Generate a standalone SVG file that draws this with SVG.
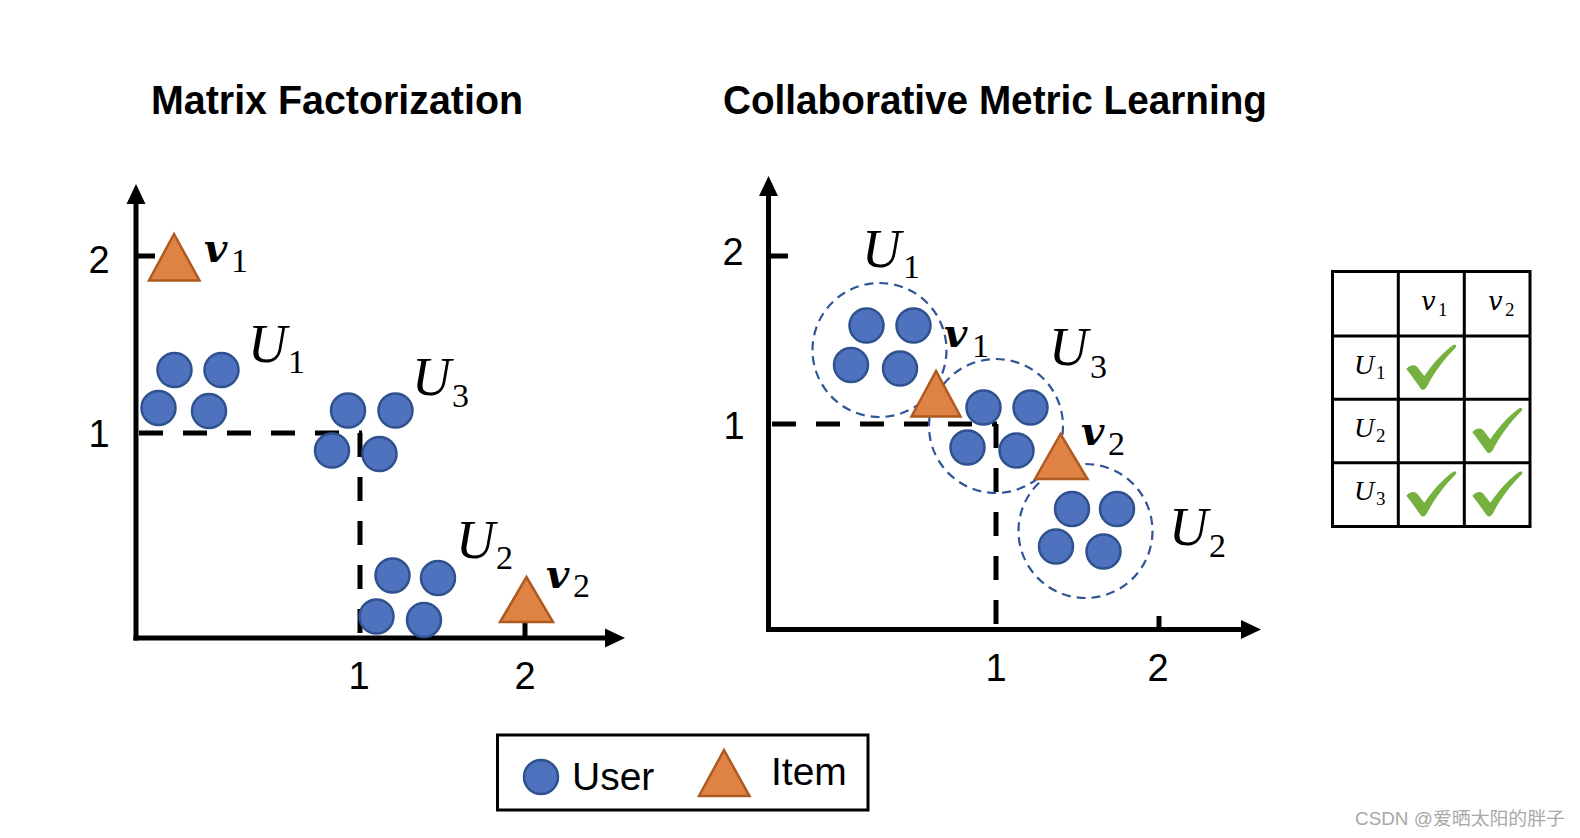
<svg xmlns="http://www.w3.org/2000/svg" width="1580" height="838" viewBox="0 0 1580 838">
<style>
.title{font-family:"Liberation Sans",Arial,sans-serif;font-weight:bold;font-size:41px;fill:#000}
.num{font-family:"Liberation Sans",Arial,sans-serif;font-size:38px;fill:#000;text-anchor:middle}
.U{font-family:"Liberation Serif","Times New Roman",serif;font-style:italic;font-size:54px;fill:#000}
.vb{font-family:"DejaVu Serif",serif;font-style:italic;font-weight:bold;font-size:40px;fill:#000}
.sub{font-family:"Liberation Serif","Times New Roman",serif;font-size:34px;fill:#000}
.tU{font-family:"Liberation Serif","Times New Roman",serif;font-style:italic;font-size:28px;fill:#000}
.tv{font-family:"DejaVu Serif",serif;font-style:italic;font-size:26px;fill:#000}
.tsub{font-family:"Liberation Serif","Times New Roman",serif;font-size:19px;fill:#000}
.leg{font-family:"Liberation Sans",Arial,sans-serif;font-size:39px;fill:#000}
.axis{stroke:#000;stroke-width:5;fill:none}
.dash{stroke:#000;stroke-width:5;fill:none;stroke-dasharray:24 20}
.user{fill:#4F72BE;stroke:#2F528F;stroke-width:2.5}
.item{fill:#DF8344;stroke:#AE5A21;stroke-width:2.5;stroke-linejoin:miter}
.ring{fill:none;stroke:#2F5597;stroke-width:2.2;stroke-dasharray:9 6}
.chk{fill:#74B13E}
.grid{fill:none;stroke:#000;stroke-width:3}
</style>
<defs>
<marker id="arr" viewBox="0 -10 22 20" markerWidth="22" markerHeight="20" refX="1" refY="0" markerUnits="userSpaceOnUse" orient="auto">
<path d="M0,-9.5 L20,0 L0,9.5 Z" fill="#000"/>
</marker>
<path id="check" d="M8,33 C11,29 16,28 19,31 L26,40 C35,27 45,16 55,9 C58,8 59,10 57,12 C46,23 36,36 29,50 C27,54 24,55 22,52 C17,45 12,38 8,33 Z"/>
</defs>
<rect width="1580" height="838" fill="#fff"/>

<text class="title" x="151" y="114" textLength="372" lengthAdjust="spacingAndGlyphs">Matrix Factorization</text>
<text class="title" x="723" y="114" textLength="544" lengthAdjust="spacingAndGlyphs">Collaborative Metric Learning</text>

<!-- Left chart -->
<g id="mf-axes">
<line class="axis" x1="136" y1="640.5" x2="136" y2="203" marker-end="url(#arr)"/>
<line class="axis" x1="133.5" y1="638" x2="606" y2="638" marker-end="url(#arr)"/>
<line class="axis" x1="136" y1="256" x2="155" y2="256"/>
<line class="axis" x1="525" y1="638" x2="525" y2="620"/>
<line class="dash" x1="139" y1="433" x2="362" y2="433"/>
<line class="dash" x1="360" y1="433" x2="360" y2="638"/>
<text class="num" x="99" y="273">2</text>
<text class="num" x="99" y="447">1</text>
<text class="num" x="359" y="689">1</text>
<text class="num" x="525" y="689">2</text>
</g>
<g id="mf-U1">
<circle class="user" cx="174.5" cy="370" r="17"/>
<circle class="user" cx="221.5" cy="370" r="17"/>
<circle class="user" cx="158.5" cy="408" r="17"/>
<circle class="user" cx="209" cy="411" r="17"/>
<text class="U" x="248" y="362">U</text><text class="sub" x="288" y="373">1</text>
</g>
<g id="mf-U3">
<circle class="user" cx="348" cy="410.5" r="17"/>
<circle class="user" cx="395.5" cy="410.5" r="17"/>
<circle class="user" cx="332" cy="450.5" r="17"/>
<circle class="user" cx="379.5" cy="454" r="17"/>
<text class="U" x="412" y="395">U</text><text class="sub" x="452" y="407">3</text>
</g>
<g id="mf-U2">
<circle class="user" cx="392.5" cy="575.5" r="17"/>
<circle class="user" cx="438" cy="578" r="17"/>
<circle class="user" cx="376.5" cy="616.5" r="17"/>
<circle class="user" cx="424" cy="620" r="17"/>
<text class="U" x="456" y="558">U</text><text class="sub" x="496" y="569">2</text>
</g>
<g id="mf-v1">
<polygon class="item" points="174,234 149,280.5 199.5,280.5"/>
<text class="vb" x="204" y="262">v</text><text class="sub" x="231" y="272">1</text>
</g>
<g id="mf-v2">
<polygon class="item" points="526.5,577 500,622 553,622"/>
<text class="vb" x="546" y="588">v</text><text class="sub" x="573" y="597">2</text>
</g>

<!-- Right chart -->
<g id="cml-axes">
<line class="axis" x1="768.5" y1="632" x2="768.5" y2="195" marker-end="url(#arr)"/>
<line class="axis" x1="766" y1="629.5" x2="1242" y2="629.5" marker-end="url(#arr)"/>
<line class="axis" x1="768.5" y1="256" x2="788" y2="256"/>
<line class="axis" x1="1159" y1="629.5" x2="1159" y2="616"/>
<line class="dash" x1="772" y1="424" x2="997" y2="424"/>
<line class="dash" x1="996" y1="424" x2="996" y2="629.5"/>
<text class="num" x="733" y="265">2</text>
<text class="num" x="734" y="439">1</text>
<text class="num" x="996" y="681">1</text>
<text class="num" x="1158" y="681">2</text>
</g>
<g id="cml-U1">
<circle class="ring" cx="879.5" cy="350" r="67"/>
<circle class="user" cx="866.5" cy="325.5" r="17"/>
<circle class="user" cx="913.5" cy="325.5" r="17"/>
<circle class="user" cx="851" cy="365" r="17"/>
<circle class="user" cx="900" cy="368.5" r="17"/>
<text class="U" x="862" y="267">U</text><text class="sub" x="903" y="278">1</text>
</g>
<g id="cml-U3">
<circle class="ring" cx="996" cy="426" r="67"/>
<circle class="user" cx="983.5" cy="407.5" r="17"/>
<circle class="user" cx="1030.5" cy="407.5" r="17"/>
<circle class="user" cx="967.5" cy="447.5" r="17"/>
<circle class="user" cx="1016.5" cy="450.5" r="17"/>
<text class="U" x="1049" y="365">U</text><text class="sub" x="1090" y="378">3</text>
</g>
<g id="cml-U2">
<circle class="ring" cx="1085.5" cy="531" r="67"/>
<circle class="user" cx="1072" cy="509" r="17"/>
<circle class="user" cx="1117" cy="509" r="17"/>
<circle class="user" cx="1056" cy="546.5" r="17"/>
<circle class="user" cx="1103.5" cy="551.5" r="17"/>
<text class="U" x="1169" y="545">U</text><text class="sub" x="1209" y="557">2</text>
</g>
<g id="cml-v1">
<polygon class="item" points="936,371 911.5,416.5 960.5,416.5"/>
<text class="vb" x="944" y="347">v</text><text class="sub" x="972" y="357">1</text>
</g>
<g id="cml-v2">
<polygon class="item" points="1060.5,434 1035,479 1087.5,479"/>
<text class="vb" x="1081" y="445">v</text><text class="sub" x="1108" y="455">2</text>
</g>

<!-- Table -->
<g id="table">
<rect class="grid" x="1332.5" y="271.5" width="197.5" height="255"/>
<line class="grid" x1="1398.3" y1="271.5" x2="1398.3" y2="526.5"/>
<line class="grid" x1="1464.3" y1="271.5" x2="1464.3" y2="526.5"/>
<line class="grid" x1="1332.5" y1="336" x2="1530" y2="336"/>
<line class="grid" x1="1332.5" y1="399.3" x2="1530" y2="399.3"/>
<line class="grid" x1="1332.5" y1="462.7" x2="1530" y2="462.7"/>
<text class="tv" x="1421" y="310">v</text><text class="tsub" x="1438" y="316">1</text>
<text class="tv" x="1488" y="310">v</text><text class="tsub" x="1505" y="316">2</text>
<text class="tU" x="1354" y="374">U</text><text class="tsub" x="1376" y="379">1</text>
<text class="tU" x="1354" y="437">U</text><text class="tsub" x="1376" y="442">2</text>
<text class="tU" x="1354" y="500">U</text><text class="tsub" x="1376" y="505">3</text>
<use href="#check" class="chk" transform="translate(1398.3,336)"/>
<use href="#check" class="chk" transform="translate(1464.3,399.3)"/>
<use href="#check" class="chk" transform="translate(1398.3,462.7)"/>
<use href="#check" class="chk" transform="translate(1464.3,462.7)"/>
</g>

<!-- Legend -->
<g id="legend">
<rect x="497.5" y="735" width="370.5" height="75" fill="none" stroke="#000" stroke-width="3"/>
<circle class="user" cx="541" cy="777" r="17"/>
<text class="leg" x="572" y="790">User</text>
<polygon class="item" points="724,750 699,796 749.5,796"/>
<text class="leg" x="771" y="785">Item</text>
</g>

<text x="1355" y="825" font-family="'Liberation Sans','Noto Sans CJK SC',sans-serif" font-size="18" fill="#a8a8a8" textLength="210" lengthAdjust="spacingAndGlyphs">CSDN @爱晒太阳的胖子</text>
</svg>
